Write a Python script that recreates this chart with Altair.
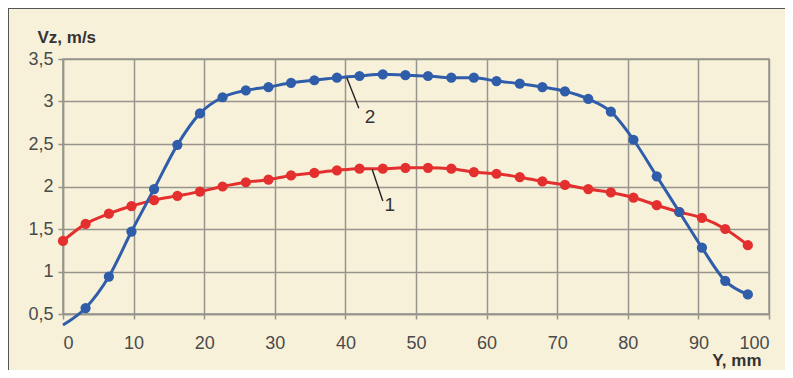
import altair as alt
import pandas as pd

# Y position, mm
y_mm = [0.0, 3.2, 6.5, 9.7, 12.9, 16.2, 19.4, 22.6, 25.9, 29.1, 32.3, 35.6, 38.8,
        42.0, 45.3, 48.5, 51.7, 55.0, 58.2, 61.4, 64.7, 67.9, 71.1, 74.4, 77.6,
        80.8, 84.1, 87.3, 90.5, 93.8, 97.0]

# Curve 1 (red)
vz_1 = [1.36, 1.56, 1.68, 1.77, 1.84, 1.89, 1.94, 2.00, 2.05, 2.08, 2.13, 2.16, 2.19,
        2.21, 2.21, 2.22, 2.22, 2.21, 2.17, 2.15, 2.11, 2.06, 2.02, 1.97, 1.93,
        1.87, 1.78, 1.70, 1.63, 1.50, 1.31]

# Curve 2 (blue); first value at Y=0 has no marker
vz_2 = [0.37, 0.57, 0.94, 1.47, 1.97, 2.49, 2.86, 3.05, 3.13, 3.17, 3.22, 3.25, 3.28,
        3.30, 3.32, 3.31, 3.30, 3.28, 3.28, 3.24, 3.21, 3.17, 3.12, 3.03, 2.88,
        2.55, 2.12, 1.70, 1.28, 0.89, 0.73]
marker_2 = [False] + [True] * 30

# Curve labels with leader lines
label_text = ["2", "1"]
label_x = [43.5, 46.3]
label_y = [2.82, 1.78]
leader_x1 = [40.2, 43.8]
leader_y1 = [3.28, 2.20]
leader_x2 = [41.9, 45.3]
leader_y2 = [2.92, 1.83]

series_names = ["1", "2"]
series_colors = ["#E3302F", "#2F5DA9"]

rows = []
for x, v in zip(y_mm, vz_1):
    rows.append({"Y": x, "Vz": v, "series": "1", "marker": True})
for x, v, m in zip(y_mm, vz_2, marker_2):
    rows.append({"Y": x, "Vz": v, "series": "2", "marker": m})
df = pd.DataFrame(rows)

labels_df = pd.DataFrame({"text": label_text, "x": label_x, "y": label_y})
leaders_df = pd.DataFrame({"x1": leader_x1, "y1": leader_y1,
                           "x2": leader_x2, "y2": leader_y2})

W, H = 706, 255
grid_col = "#96958D"
FONT = "Liberation Sans"

x_scale = alt.Scale(domain=[0, 100], nice=False, zero=False)
y_scale = alt.Scale(domain=[0.5, 3.5], nice=False, zero=False)
color_scale = alt.Scale(domain=series_names, range=series_colors)

x_axis = alt.Axis(
    values=list(range(0, 101, 10)), title="Y, mm", titleAngle=0,
    titleAlign="right", titleBaseline="alphabetic", titleX=698, titleY=51,
    titleFontWeight="bold", titleFontSize=17, titleColor="#333333", titleFont=FONT,
    labelFontSize=18, labelColor="#4a4a4a", labelPadding=15, labelFont=FONT,
    grid=True, gridColor=grid_col, gridWidth=1.5,
    tickColor=grid_col, tickSize=5, tickWidth=1.5,
    domainColor=grid_col, domainWidth=1.5,
)
y_axis = alt.Axis(
    values=[0.5, 1, 1.5, 2, 2.5, 3, 3.5], title="Vz, m/s", titleAngle=0,
    titleAlign="left", titleBaseline="alphabetic", titleX=-26, titleY=-17,
    titleFontWeight="bold", titleFontSize=17, titleColor="#333333", titleFont=FONT,
    labelFontSize=18, labelColor="#4a4a4a", labelPadding=5, labelFont=FONT,
    labelExpr="replace(toString(datum.value), '.', ',')",
    grid=True, gridColor=grid_col, gridWidth=1.5,
    tickColor=grid_col, tickSize=5, tickWidth=1.5,
    domainColor=grid_col, domainWidth=1.5,
)

base = alt.Chart(df)

lines = base.mark_line(interpolate="monotone", strokeWidth=3).encode(
    x=alt.X("Y:Q", scale=x_scale, axis=x_axis),
    y=alt.Y("Vz:Q", scale=y_scale, axis=y_axis),
    color=alt.Color("series:N", scale=color_scale, legend=None),
    detail="series:N",
)

points = base.transform_filter("datum.marker").mark_circle(size=105, opacity=1).encode(
    x=alt.X("Y:Q", scale=x_scale),
    y=alt.Y("Vz:Q", scale=y_scale),
    color=alt.Color("series:N", scale=color_scale, legend=None),
)

leaders = alt.Chart(leaders_df).mark_rule(color="#222222", strokeWidth=1.4).encode(
    x=alt.X("x1:Q", scale=x_scale),
    y=alt.Y("y1:Q", scale=y_scale),
    x2="x2:Q",
    y2="y2:Q",
)

labels = alt.Chart(labels_df).mark_text(
    fontSize=19, color="#333333", align="center", baseline="middle", font=FONT
).encode(
    x=alt.X("x:Q", scale=x_scale),
    y=alt.Y("y:Q", scale=y_scale),
    text="text:N",
)

frame_data = alt.Data(values=[{"a": 1}])
frame_top = alt.Chart(frame_data).mark_rule(color="#555555", strokeWidth=2).encode(
    x=alt.value(-55), x2=alt.value(722), y=alt.value(-51)
)
frame_left = alt.Chart(frame_data).mark_rule(color="#555555", strokeWidth=2).encode(
    x=alt.value(-55), y=alt.value(-51), y2=alt.value(311)
)

chart = alt.layer(lines, points, leaders, labels, frame_top, frame_left).properties(
    width=W, height=H,
    autosize=alt.AutoSizeParams(type="none"),
    padding={"left": 55, "top": 51, "right": 16, "bottom": 56},
    background="#F8F1DA",
).configure_view(
    stroke=grid_col, strokeWidth=1.5
)

chart.save("out.html", embed_options={"renderer": "svg", "actions": False})
